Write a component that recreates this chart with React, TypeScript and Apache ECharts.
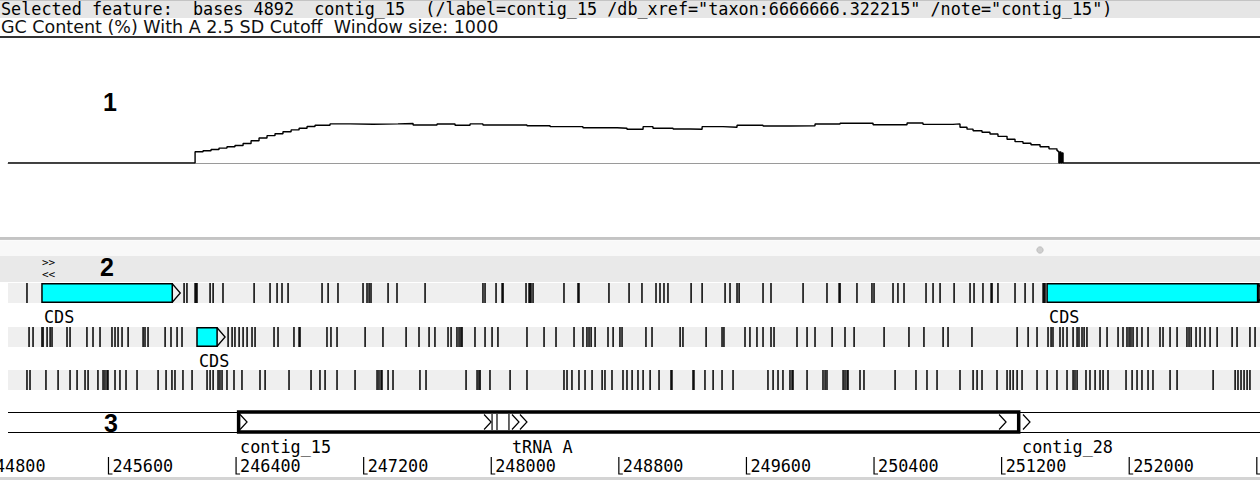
import React, { useEffect, useRef } from "react";
import * as echarts from "echarts";

// ---------- data ----------
const VIEW_START = 244970; // first base shown in the tracks
const VIEW_END = 252820; // last base shown

const headerText =
  'Selected feature:  bases 4892  contig_15  (/label=contig_15 /db_xref="taxon:6666666.322215" /note="contig_15")';
const graphTitle = "GC Content (%) With A 2.5 SD Cutoff  Window size: 1000";

// GC content (window 1000), base position / value
const gcPositions = [
  244970, 246136, 246143, 246193, 246243, 246293, 246343, 246393, 246444, 246494, 246544, 246594,
  246644, 246694, 246745, 246795, 246845, 246895, 246989, 247115, 247259, 247415, 247510, 247660,
  247773, 247867, 247948, 248224, 248369, 248575, 248789, 248851, 248952, 249014, 249140, 249246,
  249322, 249453, 249541, 249704, 249873, 250030, 250187, 250394, 250607, 250707, 250895, 250939,
  250983, 251021, 251077, 251127, 251177, 251234, 251284, 251334, 251384, 251441, 251497, 251547,
  251553, 251559, 251566, 251572, 251579, 251585, 252820,
];
const gcValues = [
  0, 0, 9.4, 10.2, 11.2, 12.4, 13.6, 14.6, 16.2, 18.6, 20.8, 22.8, 24.4, 26.0, 27.6, 29.0, 30.4,
  31.4, 32.6, 32.3, 32.6, 32.9, 31.7, 32.5, 31.5, 32.6, 31.7, 31.1, 30.3, 29.4, 28.9, 28.1, 30.3,
  28.9, 28.3, 28.1, 30.3, 29.8, 31.4, 30.8, 31.1, 32.5, 33.1, 31.9, 33.3, 32.2, 32.6, 29.8, 28.2,
  26.9, 25.6, 24.2, 22.2, 19.8, 17.8, 16.4, 15.2, 13.6, 11.8, 10.3, 9.6, 0, 9.2, 0, 8.3, 0, 0,
];

// stop codons, forward frames
const frame1Stops = [
  245089, 246074, 246092, 246143, 246149, 246155, 246237, 246256, 246318, 246513, 246613, 246657,
  246688, 246726, 246939, 246977, 247039, 247196, 247221, 247234, 247246, 247353, 247409, 247585,
  247948, 247961, 248030, 248068, 248074, 248218, 248237, 248243, 248249, 248262, 248456, 248544,
  248550, 248738, 248864, 248945, 249033, 249058, 249083, 249108, 249253, 249322, 249466, 249497,
  249541, 249554, 249704, 249754, 249955, 250105, 250181, 250187, 250293, 250387, 250400, 250519,
  250550, 250588, 250726, 250770, 250814, 250902, 251002, 251027, 251083, 251134, 251140, 251177,
  251284, 251347, 251397, 251460, 251466, 251472, 252801, 252807, 252814,
];
const frame2Stops = [
  245102, 245127, 245183, 245190, 245215, 245234, 245246, 245340, 245359, 245465, 245503, 245547,
  245622, 245641, 245660, 245685, 245723, 245817, 245829, 245848, 245955, 245992, 246030, 246061,
  246350, 246375, 246393, 246419, 246444, 246469, 246500, 246519, 246638, 246663, 246763, 246795,
  246801, 246970, 246995, 247033, 247209, 247321, 247466, 247547, 247610, 247647, 247729, 247748,
  247785, 247798, 247810, 247817, 247898, 247961, 248005, 248042, 248224, 248331, 248406, 248519,
  248575, 248600, 248613, 248626, 248651, 248732, 248764, 248807, 248820, 248970, 249008, 249184,
  249202, 249347, 249447, 249459, 249591, 249622, 249666, 249704, 249754, 249773, 249917, 249980,
  250030, 250137, 250218, 250275, 250463, 250619, 250713, 250833, 250864, 251014, 251297, 251366,
  251422, 251491, 251510, 251522, 251566, 251585, 251610, 251648, 251673, 251685, 251704, 251717,
  251735, 251817, 251861, 251930, 251961, 251986, 251999, 252011, 252024, 252049, 252080, 252118,
  252193, 252212, 252256, 252300, 252362, 252375, 252388, 252419, 252444, 252475, 252507, 252551,
  252645, 252676, 252757, 252789,
];
const frame3Stops = [
  245089, 245108, 245208, 245284, 245359, 245403, 245453, 245472, 245534, 245566, 245578, 245591,
  245597, 245641, 245672, 245710, 245779, 245911, 245961, 245998, 246017, 246067, 246124, 246218,
  246237, 246256, 246287, 246299, 246312, 246343, 246387, 246437, 246550, 246582, 246732, 246870,
  246926, 246958, 247033, 247146, 247284, 247296, 247309, 247315, 247353, 247384, 247553, 247591,
  247842, 247911, 247923, 247930, 247992, 248118, 248224, 248456, 248475, 248506, 248550, 248588,
  248632, 248695, 248713, 248757, 248826, 248851, 248883, 248920, 248952, 248996, 249052, 249127,
  249133, 249265, 249271, 249340, 249391, 249447, 249516, 249735, 249767, 249798, 249829, 249873,
  249886, 249892, 249980, 250080, 250093, 250105, 250206, 250218, 250231, 250237, 250312, 250337,
  250532, 250663, 250732, 250795, 250939, 251021, 251046, 251077, 251171, 251234, 251253, 251272,
  251297, 251328, 251422, 251485, 251547, 251610, 251648, 251660, 251673, 251729, 251754, 251786,
  251817, 251836, 251867, 251980, 252018, 252049, 252080, 252118, 252149, 252256, 252300, 252526,
  252664, 252682, 252701, 252720, 252739, 252757,
];

// CDS features per frame
const frame1CdsStart = [245183, 251485];
const frame1CdsEnd = [246000, 252805];
const frame1CdsLabel = ["CDS", "CDS"];
const frame2CdsStart = [246155];
const frame2CdsEnd = [246281];
const frame2CdsLabel = ["CDS"];

// contig track
const contigBoxStart = [246416];
const contigBoxEnd = [251307];
const featureArrows = [246425, 247955, 248130, 248180, 251184, 251334];
const featureMarks = [248005, 248036, 248111];
const featureLabelPos = [246425, 248130, 251328];
const featureLabelText = ["contig_15", "tRNA A", "contig_28"];

// ruler ticks (base positions, label = value)
const rulerTicks = [244800, 245600, 246400, 247200, 248000, 248800, 249600, 250400, 251200, 252000, 252800];

// ---------- styling ----------
const MONO = '"DejaVu Sans Mono", monospace';
const MONO_SIZE = 16.8;
const BOLD_NUM = 'bold 25px "Liberation Sans", Arial, sans-serif';

const FRAME_TOPS = [283, 327, 370];
const BAND_H = 20;

function stopSeries(stops: number[], idx: number) {
  return {
    type: "custom",
    xAxisIndex: idx,
    yAxisIndex: idx,
    silent: true,
    data: stops.map((s) => [s]),
    renderItem: (_p: any, api: any) => {
      const b = api.coord([api.value(0), 0]);
      const t = api.coord([api.value(0), 1]);
      return {
        type: "line",
        shape: { x1: b[0], y1: t[1], x2: b[0], y2: b[1] },
        style: { stroke: "#000", lineWidth: 1.5 },
      };
    },
  };
}

function cdsSeries(starts: number[], ends: number[], labels: string[], idx: number) {
  return {
    type: "custom",
    xAxisIndex: idx,
    yAxisIndex: idx,
    silent: true,
    z: 5,
    data: starts.map((s, i) => [s, ends[i]]),
    renderItem: (p: any, api: any) => {
      const a = api.coord([api.value(0), 0]);
      const b = api.coord([api.value(1), 1]);
      const x0 = a[0];
      const x1 = b[0];
      const yb = a[1];
      const yt = b[1];
      const mid = (yt + yb) / 2;
      return {
        type: "group",
        children: [
          {
            type: "rect",
            shape: { x: x0, y: yt + 0.75, width: x1 - x0, height: yb - yt - 1.5 },
            style: { fill: "#00ffff", stroke: "#000", lineWidth: 1.5 },
          },
          {
            type: "polyline",
            shape: { points: [[x1, yt + 0.75], [x1 + 8, mid], [x1, yb - 0.75]] },
            style: { fill: "none", stroke: "#000", lineWidth: 1.3 },
          },
          {
            type: "text",
            x: x0 + 2,
            y: yb + 14,
            style: {
              text: labels[p.dataIndex],
              fill: "#000",
              font: `${MONO_SIZE}px ${MONO}`,
              align: "left",
              verticalAlign: "middle",
              lineHeight: 16,
            },
          },
        ],
      };
    },
  };
}

function buildOption() {
  const grids: any[] = [
    { left: 8, top: 43, width: 1252, height: 120 },
    ...FRAME_TOPS.map((t) => ({
      left: 8,
      top: t,
      width: 1252,
      height: BAND_H,
      show: true,
      backgroundColor: "#efefef",
      borderWidth: 0,
    })),
    { left: 8, top: 412, width: 1252, height: 20 },
    { left: 8, top: 455, width: 1252, height: 22 },
  ];

  const xAxis: any[] = grids.map((_g, i) =>
    i === 0
      ? {
          type: "value",
          gridIndex: 0,
          min: VIEW_START,
          max: VIEW_END,
          axisLine: { show: true, lineStyle: { color: "#9a9a9a", width: 1 } },
          axisTick: { show: false },
          axisLabel: { show: false },
          splitLine: { show: false },
        }
      : { type: "value", gridIndex: i, min: VIEW_START, max: VIEW_END, show: false }
  );

  const yAxis: any[] = grids.map((_g, i) => ({
    type: "value",
    gridIndex: i,
    min: 0,
    max: i === 0 ? 100 : 1,
    show: false,
  }));

  const series: any[] = [
    {
      type: "line",
      xAxisIndex: 0,
      yAxisIndex: 0,
      step: "end",
      symbol: "none",
      silent: true,
      data: gcPositions.map((p, i) => [p, gcValues[i]]),
      lineStyle: { color: "#000", width: 1.4 },
    },
    stopSeries(frame1Stops, 1),
    stopSeries(frame2Stops, 2),
    stopSeries(frame3Stops, 3),
    cdsSeries(frame1CdsStart, frame1CdsEnd, frame1CdsLabel, 1),
    cdsSeries(frame2CdsStart, frame2CdsEnd, frame2CdsLabel, 2),
    {
      type: "custom",
      xAxisIndex: 4,
      yAxisIndex: 4,
      silent: true,
      z: 3,
      data: contigBoxStart.map((s, i) => [s, contigBoxEnd[i]]),
      renderItem: (_p: any, api: any) => {
        const a = api.coord([api.value(0), 0]);
        const b = api.coord([api.value(1), 1]);
        return {
          type: "rect",
          shape: { x: a[0], y: b[1], width: b[0] - a[0], height: a[1] - b[1] },
          style: { fill: "#fff", stroke: "#000", lineWidth: 3.5 },
        };
      },
    },
    {
      type: "custom",
      xAxisIndex: 4,
      yAxisIndex: 4,
      silent: true,
      z: 4,
      data: featureMarks.map((s) => [s]),
      renderItem: (_p: any, api: any) => {
        const a = api.coord([api.value(0), 0]);
        const b = api.coord([api.value(0), 1]);
        return {
          type: "line",
          shape: { x1: a[0], y1: b[1] + 2, x2: a[0], y2: a[1] - 2 },
          style: { stroke: "#000", lineWidth: 1.2 },
        };
      },
    },
    {
      type: "custom",
      xAxisIndex: 4,
      yAxisIndex: 4,
      silent: true,
      z: 4,
      data: featureArrows.map((s) => [s]),
      renderItem: (_p: any, api: any) => {
        const a = api.coord([api.value(0), 0]);
        const b = api.coord([api.value(0), 1]);
        const mid = (a[1] + b[1]) / 2;
        return {
          type: "polyline",
          shape: { points: [[a[0], b[1] + 2.5], [a[0] + 7, mid], [a[0], a[1] - 2.5]] },
          style: { fill: "none", stroke: "#000", lineWidth: 1.2 },
        };
      },
    },
    {
      type: "custom",
      xAxisIndex: 4,
      yAxisIndex: 4,
      silent: true,
      z: 4,
      data: featureLabelPos.map((s) => [s]),
      renderItem: (p: any, api: any) => {
        const a = api.coord([api.value(0), 0]);
        return {
          type: "text",
          x: a[0],
          y: a[1] + 15,
          style: {
            text: featureLabelText[p.dataIndex],
            fill: "#000",
            font: `${MONO_SIZE}px ${MONO}`,
            align: "left",
            verticalAlign: "middle",
            lineHeight: 15,
          },
        };
      },
    },
    {
      type: "custom",
      xAxisIndex: 5,
      yAxisIndex: 5,
      silent: true,
      data: rulerTicks.map((s) => [s]),
      renderItem: (_p: any, api: any) => {
        const v = api.value(0);
        const a = api.coord([v, 0]);
        const b = api.coord([v, 1]);
        return {
          type: "group",
          children: [
            {
              type: "polyline",
              shape: { points: [[a[0], b[1] + 2], [a[0], a[1] - 3], [a[0] + 4, a[1] - 3]] },
              style: { fill: "none", stroke: "#000", lineWidth: 1.2 },
            },
            {
              type: "text",
              x: a[0] + 4,
              y: a[1] - 11,
              style: {
                text: String(v),
                fill: "#000",
                font: `${MONO_SIZE}px ${MONO}`,
                align: "left",
                verticalAlign: "middle",
                lineHeight: 15,
              },
            },
          ],
        };
      },
    },
  ];

  const graphic: any[] = [
    { type: "rect", shape: { x: 0, y: 0, width: 1260, height: 18 }, style: { fill: "#e6e6e6" } },
    { type: "line", shape: { x1: 0, y1: 0.5, x2: 1260, y2: 0.5 }, style: { stroke: "#c4c4c4", lineWidth: 1 } },
    {
      type: "text",
      x: 1,
      y: 9,
      style: { text: headerText, fill: "#000", font: `${MONO_SIZE}px ${MONO}`, verticalAlign: "middle" },
    },
    {
      type: "text",
      x: 1,
      y: 27,
      style: {
        text: graphTitle,
        fill: "#111",
        font: '17.5px "DejaVu Sans", sans-serif',
        verticalAlign: "middle",
        lineHeight: 17,
      },
    },
    { type: "line", shape: { x1: 0, y1: 37, x2: 1260, y2: 37 }, style: { stroke: "#333", lineWidth: 2 } },
    {
      type: "text",
      x: 103,
      y: 102,
      style: { text: "1", fill: "#000", font: BOLD_NUM, verticalAlign: "middle" },
    },
    // separator between the graph and the feature panel
    { type: "line", shape: { x1: 0, y1: 238, x2: 1260, y2: 238 }, style: { stroke: "#8a8a8a", lineWidth: 1.2 } },
    { type: "line", shape: { x1: 0, y1: 239.5, x2: 1260, y2: 239.5 }, style: { stroke: "#c8c8c8", lineWidth: 1.2 } },
    { type: "rect", shape: { x: 0, y: 240.5, width: 1260, height: 15.5 }, style: { fill: "#f8f8f8" } },
    { type: "rect", shape: { x: 0, y: 256, width: 1260, height: 26 }, style: { fill: "#e9e9e9" } },
    { type: "circle", shape: { cx: 1040, cy: 250, r: 3.2 }, style: { fill: "#cfcfcf", stroke: "#b8b8b8", lineWidth: 0.8 } },
    {
      type: "text",
      x: 42,
      y: 262,
      style: { text: ">>", fill: "#000", font: `11px ${MONO}`, verticalAlign: "middle", lineHeight: 10 },
    },
    {
      type: "text",
      x: 42,
      y: 274,
      style: { text: "<<", fill: "#000", font: `11px ${MONO}`, verticalAlign: "middle", lineHeight: 10 },
    },
    {
      type: "text",
      x: 100,
      y: 267,
      style: { text: "2", fill: "#000", font: BOLD_NUM, verticalAlign: "middle" },
    },
    // contig track frame lines
    { type: "line", shape: { x1: 8, y1: 412.5, x2: 1260, y2: 412.5 }, style: { stroke: "#000", lineWidth: 1 } },
    { type: "line", shape: { x1: 8, y1: 432.5, x2: 1260, y2: 432.5 }, style: { stroke: "#000", lineWidth: 1 } },
    {
      type: "text",
      x: 104,
      y: 423,
      style: { text: "3", fill: "#000", font: BOLD_NUM, verticalAlign: "middle" },
    },
    { type: "rect", shape: { x: 0, y: 477, width: 1260, height: 3 }, style: { fill: "#d4d4d4" } },
  ];

  return {
    animation: false,
    backgroundColor: "#fff",
    grid: grids,
    xAxis,
    yAxis,
    series,
    graphic,
  };
}

export default function App() {
  const ref = useRef<HTMLDivElement>(null);
  useEffect(() => {
    if (!ref.current) return;
    const chart = echarts.init(ref.current, null, { renderer: "svg" });
    chart.setOption(buildOption() as any);
    return () => chart.dispose();
  }, []);
  return (
    <div
      ref={ref}
      style={{ position: "fixed", left: 0, top: 0, width: 1260, height: 480, background: "#fff" }}
    />
  );
}
